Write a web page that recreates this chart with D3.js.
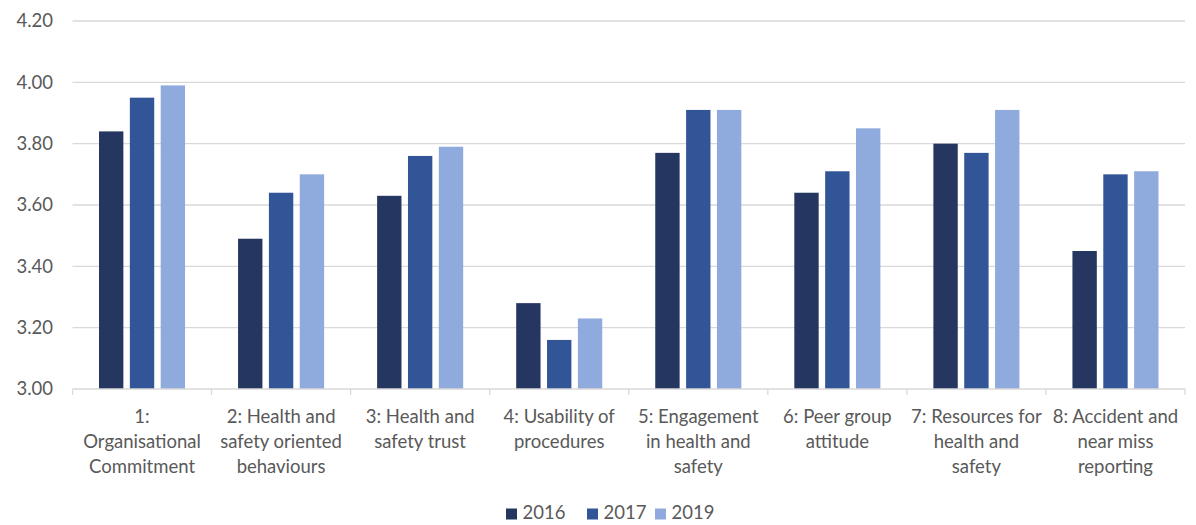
<!DOCTYPE html>
<html>
<head>
<meta charset="utf-8">
<script src="https://cdn.jsdelivr.net/npm/d3@7"></script>
<style>
  html, body { margin: 0; padding: 0; background: #fff; }
  svg { display: block; }
  text { font-family: Lato, "Open Sans", sans-serif; fill: #595959; }
</style>
</head>
<body>
<svg id="chart" width="1196" height="525"></svg>
<script>
// ---- data ----
const categories = [
  "1: Organisational Commitment",
  "2: Health and safety oriented behaviours",
  "3: Health and safety trust",
  "4: Usability of procedures",
  "5: Engagement in health and safety",
  "6: Peer group attitude",
  "7: Resources for health and safety",
  "8: Accident and near miss reporting"
];
const categoryLines = [
  ["1:", "Organisational", "Commitment"],
  ["2: Health and", "safety oriented", "behaviours"],
  ["3: Health and", "safety trust"],
  ["4: Usability of", "procedures"],
  ["5: Engagement", "in health and", "safety"],
  ["6: Peer group", "attitude"],
  ["7: Resources for", "health and", "safety"],
  ["8: Accident and", "near miss", "reporting"]
];
const years = ["2016", "2017", "2019"];
const values2016 = [3.84, 3.49, 3.63, 3.28, 3.77, 3.64, 3.80, 3.45];
const values2017 = [3.95, 3.64, 3.76, 3.16, 3.91, 3.71, 3.77, 3.70];
const values2019 = [3.99, 3.70, 3.79, 3.23, 3.91, 3.85, 3.91, 3.71];
const yTicks = [3.00, 3.20, 3.40, 3.60, 3.80, 4.00, 4.20];
const colors = ["#253760", "#315597", "#8FAADC"];

const series = [values2016, values2017, values2019];

// ---- layout ----
const svg = d3.select("#chart");
const plotLeft = 72.5, plotRight = 1185, plotTop = 21, plotBottom = 389;

const x = d3.scaleBand().domain(categories).range([plotLeft, plotRight]).padding(0);
const groupPad = 26.5;
const xInner = d3.scaleBand().domain(years)
  .range([groupPad, x.bandwidth() - groupPad]).paddingInner(0.21).paddingOuter(0);
const y = d3.scaleLinear().domain([3.0, 4.2]).range([plotBottom, plotTop]);

// gridlines
svg.append("g").selectAll("line").data(yTicks.filter(t => t > 3.0)).join("line")
  .attr("x1", plotLeft).attr("x2", plotRight)
  .attr("y1", d => y(d)).attr("y2", d => y(d))
  .attr("stroke", "#d9d9d9").attr("stroke-width", 1.3);

// y tick labels
svg.append("g").selectAll("text").data(yTicks).join("text")
  .attr("x", 53).attr("y", d => y(d) + 6.3)
  .attr("text-anchor", "end")
  .style("font-size", "18.5px")
  .text(d => d.toFixed(2));

// bars
const g = svg.append("g");
categories.forEach((c, i) => {
  years.forEach((yr, j) => {
    g.append("rect")
      .attr("x", x(c) + xInner(yr))
      .attr("width", xInner.bandwidth())
      .attr("y", y(series[j][i]))
      .attr("height", y(3.0) - y(series[j][i]))
      .attr("fill", colors[j]);
  });
});

// x axis line and ticks
svg.append("line").attr("x1", plotLeft).attr("x2", plotRight)
  .attr("y1", plotBottom).attr("y2", plotBottom)
  .attr("stroke", "#d9d9d9").attr("stroke-width", 1.3);
const boundaries = categories.map(c => x(c)).concat([x(categories[categories.length - 1]) + x.bandwidth()]);
svg.append("g").selectAll("line").data(boundaries).join("line")
  .attr("x1", d => d).attr("x2", d => d)
  .attr("y1", plotBottom).attr("y2", plotBottom + 6)
  .attr("stroke", "#d9d9d9").attr("stroke-width", 1.3);

// category labels
const lab = svg.append("g");
categories.forEach((c, i) => {
  const t = lab.append("text")
    .attr("text-anchor", "middle")
    .style("font-size", "18.5px");
  categoryLines[i].forEach((ln, k) => {
    t.append("tspan").attr("x", x(c) + x.bandwidth() / 2)
      .attr("y", 422.5 + k * 25.4).text(ln);
  });
});

// legend
const legendX = [506, 587, 655];
const leg = svg.append("g");
years.forEach((yr, j) => {
  leg.append("rect").attr("x", legendX[j]).attr("y", 508.5)
    .attr("width", 11).attr("height", 11).attr("fill", colors[j]);
  leg.append("text").attr("x", legendX[j] + 16.5).attr("y", 519)
    .style("font-size", "18.5px").text(yr);
});
</script>
</body>
</html>
